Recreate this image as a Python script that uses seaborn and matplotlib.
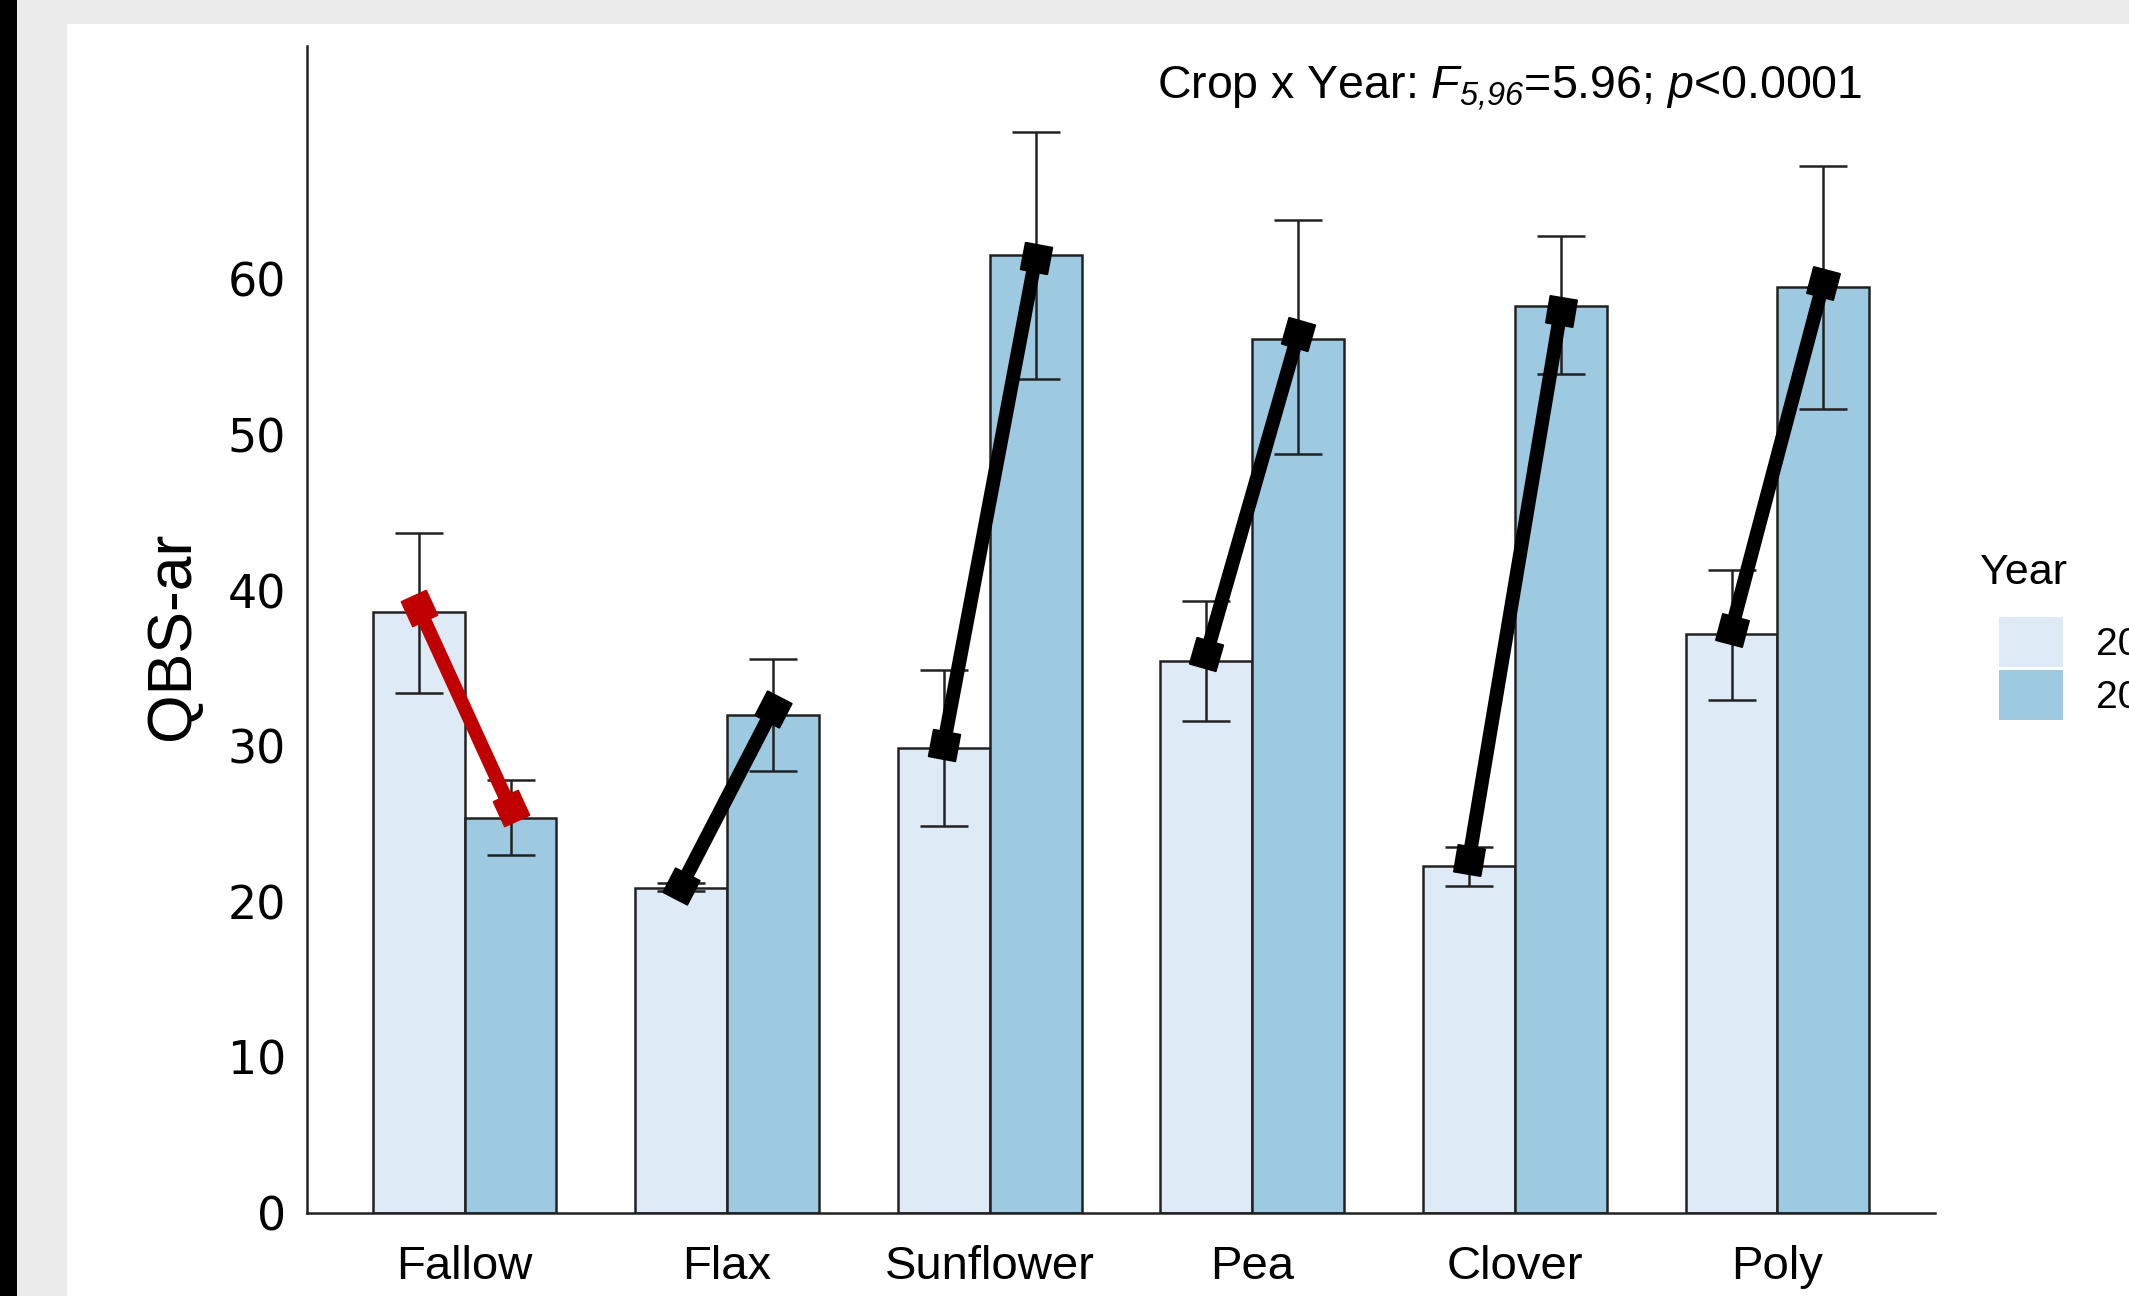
import numpy as np
import pandas as pd
import matplotlib
matplotlib.use('Agg')
import matplotlib.pyplot as plt
import matplotlib.patches as mpatches
import seaborn as sns

# data
crops = ['Fallow', 'Flax', 'Sunflower', 'Pea', 'Clover', 'Poly']
years = ['2019', '2020']
qbs_y1 = [38.6, 20.9, 29.9, 35.5, 22.3, 37.2]
qbs_y2 = [25.4, 32.0, 61.6, 56.2, 58.3, 59.5]
lo_y1 = [33.4, 20.7, 24.9, 31.6, 21.0, 33.0]
hi_y1 = [43.7, 21.2, 34.9, 39.3, 23.5, 41.3]
lo_y2 = [23.0, 28.4, 53.6, 48.8, 53.9, 51.7]
hi_y2 = [27.8, 35.6, 69.5, 63.8, 62.8, 67.3]
# trend line drawn over the bars
line_y1 = [38.9, 21.0, 30.1, 35.9, 22.7, 37.5]
line_y2 = [26.0, 32.4, 61.4, 56.5, 58.0, 59.8]
line_colors = ['#C00000', 'black', 'black', 'black', 'black', 'black']

bar_colors = ['#DEEBF7', '#9ECAE1']
yticks = [0, 10, 20, 30, 40, 50, 60]

sns.set_style('white')
plt.rcParams['font.family'] = ['Liberation Sans', 'DejaVu Sans']
plt.rcParams['text.color'] = 'black'
plt.rcParams['mathtext.fontset'] = 'custom'
plt.rcParams['mathtext.rm'] = 'Liberation Sans'
plt.rcParams['mathtext.it'] = 'Liberation Sans:italic'
# mathtext puts digits of \mathit upright, so use sf as an italic slot
plt.rcParams['mathtext.sf'] = 'Liberation Sans:italic'

df = pd.DataFrame({
    'Crop': crops * 2,
    'Year': [years[0]] * 6 + [years[1]] * 6,
    'QBS': qbs_y1 + qbs_y2,
})

W, H = 2129, 1296
fig = plt.figure(figsize=(W / 100, H / 100), dpi=100, facecolor='#EBEBEB')
# screenshot frame: white page, grey margin, black strip on the left
fig.patches.append(mpatches.Rectangle((67 / W, 0), 1, 1 - 24 / H, transform=fig.transFigure,
                                      facecolor='white', edgecolor='none', zorder=-10))
fig.patches.append(mpatches.Rectangle((0, 0), 17 / W, 1, transform=fig.transFigure,
                                      facecolor='black', edgecolor='none', zorder=-10))

ax = fig.add_axes([307 / W, 1 - 1213 / H, (1935 - 307) / W, (1213 - 46) / H])
ax.set_facecolor('none')

sns.barplot(data=df, x='Crop', y='QBS', hue='Year', palette=bar_colors, saturation=1,
            width=0.7, edgecolor='#222222', linewidth=1.8, errorbar=None, legend=False, ax=ax)

# bar centres from the drawn patches, left bar of each pair first
centres = sorted(p.get_x() + p.get_width() / 2 for p in ax.patches if p.get_height() > 0)
x1 = np.array(centres[0::2])
x2 = np.array(centres[1::2])

for xs, m, lo, hi in [(x1, qbs_y1, lo_y1, hi_y1), (x2, qbs_y2, lo_y2, hi_y2)]:
    m = np.array(m)
    ax.errorbar(xs, m, yerr=[m - np.array(lo), np.array(hi) - m], fmt='none',
                ecolor='#222222', elinewidth=1.8, capsize=17, capthick=1.8, zorder=4)

ax.set_xlim(-0.6, 5.6)
ax.set_ylim(0, 75)

# lines with squares turned along the line
for i in range(len(crops)):
    xs = [x1[i], x2[i]]
    ys = [line_y1[i], line_y2[i]]
    ax.plot(xs, ys, color=line_colors[i], lw=10, solid_capstyle='butt', zorder=5)
    p0 = ax.transData.transform((xs[0], ys[0]))
    p1 = ax.transData.transform((xs[1], ys[1]))
    ang = np.degrees(np.arctan2(p1[1] - p0[1], p1[0] - p0[0]))
    ax.plot(xs, ys, ls='none', marker=(4, 0, 45 + ang), markersize=28,
            color=line_colors[i], zorder=6)

ax.set_yticks(yticks)
ax.set_xlabel('')
ax.set_ylabel('')
sns.despine(ax=ax)
for s in ['left', 'bottom']:
    ax.spines[s].set_linewidth(1.8)
    ax.spines[s].set_color('#222222')
ax.tick_params(axis='y', length=8, width=1.5, color='#222222', labelsize=33, pad=7,
               labelcolor='black')
ax.tick_params(axis='x', length=8, width=1.5, color='#222222', labelsize=34, pad=15,
               labelcolor='black')
for t in ax.get_yticklabels():
    t.set_fontfamily('DejaVu Sans')

fig.text(172 / W, 1 - 636 / H, 'QBS-ar', rotation=90, ha='center', va='center', fontsize=45)

fig.text(1157 / W, 1 - 99 / H,
         r'Crop x Year: $\mathit{F}_{\mathsf{5{,}96}}$=5.96; $\mathit{p}$<0.0001',
         fontsize=33.5, ha='left', va='baseline')

# legend, cut by the right edge as in the reference
fig.text(1980 / W, 1 - 573 / H, 'Year', fontsize=31, ha='left', va='center')
handles = [mpatches.Patch(facecolor=c, edgecolor='none', label=y)
           for c, y in zip(bar_colors, years)]
fig.legend(handles=handles, loc='upper left', bbox_to_anchor=(1999 / W, 1 - 617 / H),
           frameon=False, fontsize=28, labelcolor='black',
           handlelength=1.65, handleheight=1.6, labelspacing=0.08, handletextpad=0.85,
           borderpad=0, borderaxespad=0)

fig.savefig('out.png', dpi=100, facecolor=fig.get_facecolor())
